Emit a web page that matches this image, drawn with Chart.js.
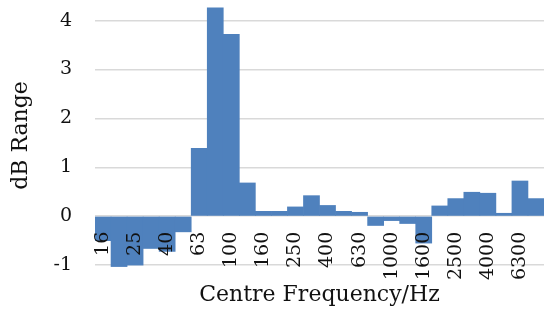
<!DOCTYPE html>
<html>
<head>
<meta charset="utf-8">
<script src="https://cdn.jsdelivr.net/npm/chart.js@4.4.0/dist/chart.umd.min.js"></script>
<style>
  html, body { margin: 0; padding: 0; background: #fff; }
  #wrap { width: 544px; height: 312px; position: relative; }
</style>
</head>
<body>
<div id="wrap"><canvas id="resultChart"></canvas></div>
<script>
// third-octave band centres (Hz)
const bands = ['16', '20', '25', '31.5', '40', '50', '63', '80', '100', '125', '160', '200', '250', '315',
  '400', '500', '630', '800', '1000', '1250', '1600', '2000', '2500', '3150', '4000', '5000', '6300', '8000'];
const dbRange = [-0.50, -1.03, -1.00, -0.66, -0.72, -0.32, 1.39, 4.26, 3.72, 0.68, 0.10, 0.10, 0.19, 0.42,
  0.22, 0.10, 0.08, -0.19, -0.09, -0.15, -0.55, 0.21, 0.36, 0.49, 0.47, 0.06, 0.72, 0.36];
const yTicks = [-1, 0, 1, 2, 3, 4];

const serif = 'DejaVu Serif';

function generateChart() {
  const ctx = document.getElementById('resultChart').getContext('2d');
  new Chart(ctx, {
    type: 'bar',
    data: {
      labels: bands,
      datasets: [{
        label: 'dB Range',
        data: dbRange,
        backgroundColor: '#4f81bd',
        borderWidth: 0,
        barPercentage: 1,
        categoryPercentage: 1,
        xAxisID: 'x'
      }]
    },
    options: {
      responsive: true,
      maintainAspectRatio: false,
      animation: false,
      layout: { padding: { top: 1, right: 0, bottom: 0, left: 0 } },
      plugins: { legend: { display: false }, tooltip: { enabled: false } },
      scales: {
        // category labels sit on the zero line, like Excel's "next to axis"
        x: {
          position: { y: 0 },
          grid: { display: false, drawTicks: false },
          border: { display: false },
          ticks: {
            autoSkip: false,
            minRotation: 90,
            maxRotation: 90,
            padding: 15.5,
            z: 1,
            color: '#111',
            font: { family: serif, size: 19 },
            callback: function (val, i) { return i % 2 === 0 ? bands[i] : ''; }
          },
          afterFit: function (s) { s.height = 0; s.paddingLeft = 0; s.paddingRight = 0; }
        },
        // holds only the axis title at the bottom
        xTitle: {
          type: 'category',
          position: 'bottom',
          grid: { display: false, drawTicks: false },
          border: { display: false },
          ticks: { display: false },
          title: {
            display: true,
            text: 'Centre Frequency/Hz',
            color: '#111',
            font: { family: serif, size: 22 },
            padding: { top: 11.8, bottom: 3.8 }
          }
        },
        y: {
          min: -1.1,
          max: 4.4,
          grid: { color: '#d9d9d9', lineWidth: 1.5, drawTicks: false },
          border: { display: false },
          afterBuildTicks: function (s) { s.ticks = yTicks.map(v => ({ value: v })); },
          ticks: {
            padding: 23,
            color: '#111',
            font: { family: serif, size: 19 }
          },
          title: {
            display: true,
            text: 'dB Range',
            color: '#111',
            font: { family: serif, size: 22 },
            padding: { top: 8, bottom: 0 }
          },
          afterFit: function (s) { s.width = 95; s.paddingTop = 0; s.paddingBottom = 0; }
        }
      }
    }
  });
}

generateChart();
</script>
</body>
</html>
